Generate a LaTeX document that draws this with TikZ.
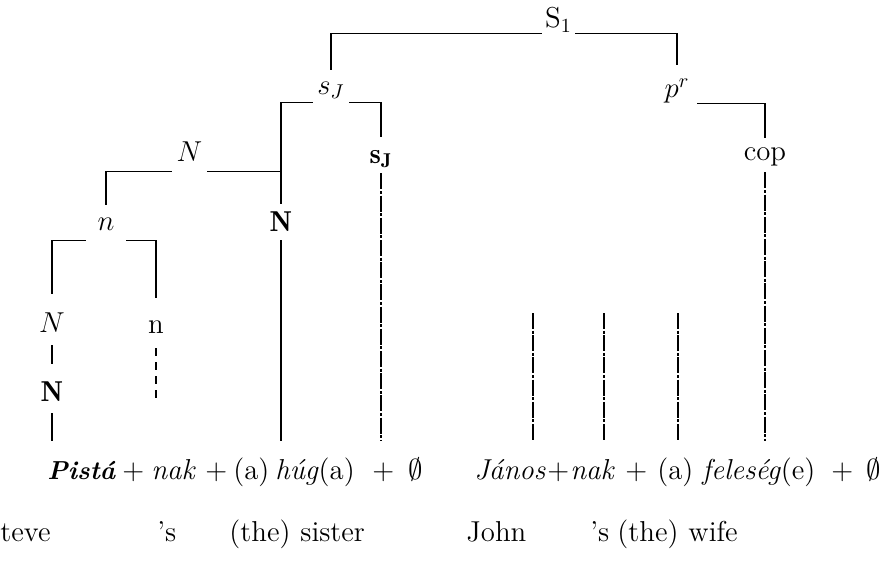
\documentclass[tikz,border=0pt]{standalone}
\usepackage{fontspec}
\usepackage{amssymb}
\begin{document}
\begin{tikzpicture}[x=0.5pt,y=-0.5pt]
\tikzset{
  lab/.style={inner sep=0pt, font=\Large},
  word/.style={inner xsep=0pt, inner ysep=9pt, text height=10pt, text depth=3pt,
               anchor=base west, font=\Large},
  gloss/.style={inner sep=0pt, anchor=base west, font=\Large},
  branch/.style={line width=0.6pt},
  brk/.style={line width=0.6pt, dash pattern=on 8pt off 0.8pt on 1.5pt off 0.8pt},
  gapline/.style={line width=0.6pt, dash pattern=on 4pt off 3pt}
}
\useasboundingbox (0,0) rectangle (885,562);

% tree labels
\node[lab, minimum width=16.5pt, minimum height=13pt] (S1) at (558.5,20) {$\mathrm{S}_1$};
\node[lab, minimum width=18pt, minimum height=12pt] (sJ) at (331,90) {$s_J$};
\node[lab, minimum width=20pt, minimum height=12pt] (pr) at (677,91) {$p^r$};
\node[lab, minimum width=17.5pt, minimum height=19pt] (Ni1) at (189.5,152) {$N$};
\node[lab, minimum height=18pt] (Nb) at (281,222) {$\mathbf{N}$};
\node[lab, minimum height=14pt] (sJb) at (381,159) {$\mathbf{s_J}$};
\node[lab, minimum height=15pt] (cop) at (765,157) {cop};
\node[lab, minimum width=20pt, minimum height=16pt] (n1) at (106,224) {$n$};
\node[lab, minimum height=22pt] (Ni2) at (52,323) {$N$};
\node[lab, minimum height=21pt] (Nb2) at (52,392) {$\mathbf{N}$};
\node[lab, minimum height=21pt] (n2) at (156,327) {n};

% Hungarian line
\node[word, font=\fontsize{13}{15}\selectfont] (Pista) at (47,479) {\textbf{\textit{Pistá}}};
\node[word] (p1) at (122,479) {+};
\node[word] (nak) at (151,479) {\textit{nak}};
\node[word] (p2) at (205,479) {+};
\node[word] (a1) at (233,479) {(a)};
\node[word] (hug) at (275,479) {\textit{húg}(a)};
\node[word] (p3) at (372,479) {+};
\node[word] (z1) at (408,479) {$\emptyset$};

\node[word] (Janos) at (474,479) {\textit{János}};
\node[word] (p4) at (547,479) {+};
\node[word] (nak2) at (570,479) {\textit{nak}};
\node[word] (p5) at (625,479) {+};
\node[word] (a2) at (657,479) {(a)};
\node[word] (fel) at (702,479) {\textit{feleség}(e)};
\node[word] (p6) at (831,479) {+};
\node[word] (z2) at (866,479) {$\emptyset$};

% English gloss
\node[gloss] (g1) at (0,541) {teve};
\node[gloss] (g2) at (157,541) {’s};
\node[gloss] (g3) at (229,541) {(the)};
\node[gloss] (g4) at (300,541) {sister};
\node[gloss] (g5) at (466,541) {John};
\node[gloss] (g6) at (590,541) {’s};
\node[gloss] (g7) at (617,541) {(the)};
\node[gloss] (g8) at (688,541) {wife};

% free ends
\coordinate (nEnd) at (156,398);
\coordinate (r1) at (533,313);
\coordinate (r2) at (604,313);
\coordinate (r3) at (678,313);

% branches
\draw[branch, shorten >=4pt] (S1.south west) -| (sJ.north);
\draw[branch, shorten >=6.5pt] (S1.south east) -| (pr.north);
\draw[branch] (sJ.south west) -| (Nb.north);
\draw[branch, shorten >=4pt] (sJ.south east) -| (sJb.north);
\draw[branch, shorten >=2pt] (pr.south east) -| (cop.north);
\draw[branch] (Ni1.south east) -- (Ni1.south east -| Nb.north);
\draw[branch, shorten >=1.5pt] (Ni1.south west) -| (n1.north);
\draw[branch, shorten >=3.5pt] (n1.south west) -| (Ni2.north);
\draw[branch, shorten >=4pt] (n1.south east) -| (n2.north);
\draw[branch, shorten >=3.5pt] (Ni2.south) -- (Nb2.north);
\draw[branch] (Nb2.south) -- (Nb2.south |- Pista.north);
\draw[gapline] (n2.south) -- (nEnd);
\draw[branch] (Nb.south) -- (Nb.south |- hug.north);
\draw[brk] (sJb.south) -- (sJb.south |- p3.north);
\draw[brk] (cop.south) -- (cop.south |- fel.north);
\draw[brk] (r1) -- (r1 |- Janos.north);
\draw[brk] (r2) -- (r2 |- nak2.north);
\draw[brk] (r3) -- (r3 |- a2.north);
\end{tikzpicture}
\end{document}
